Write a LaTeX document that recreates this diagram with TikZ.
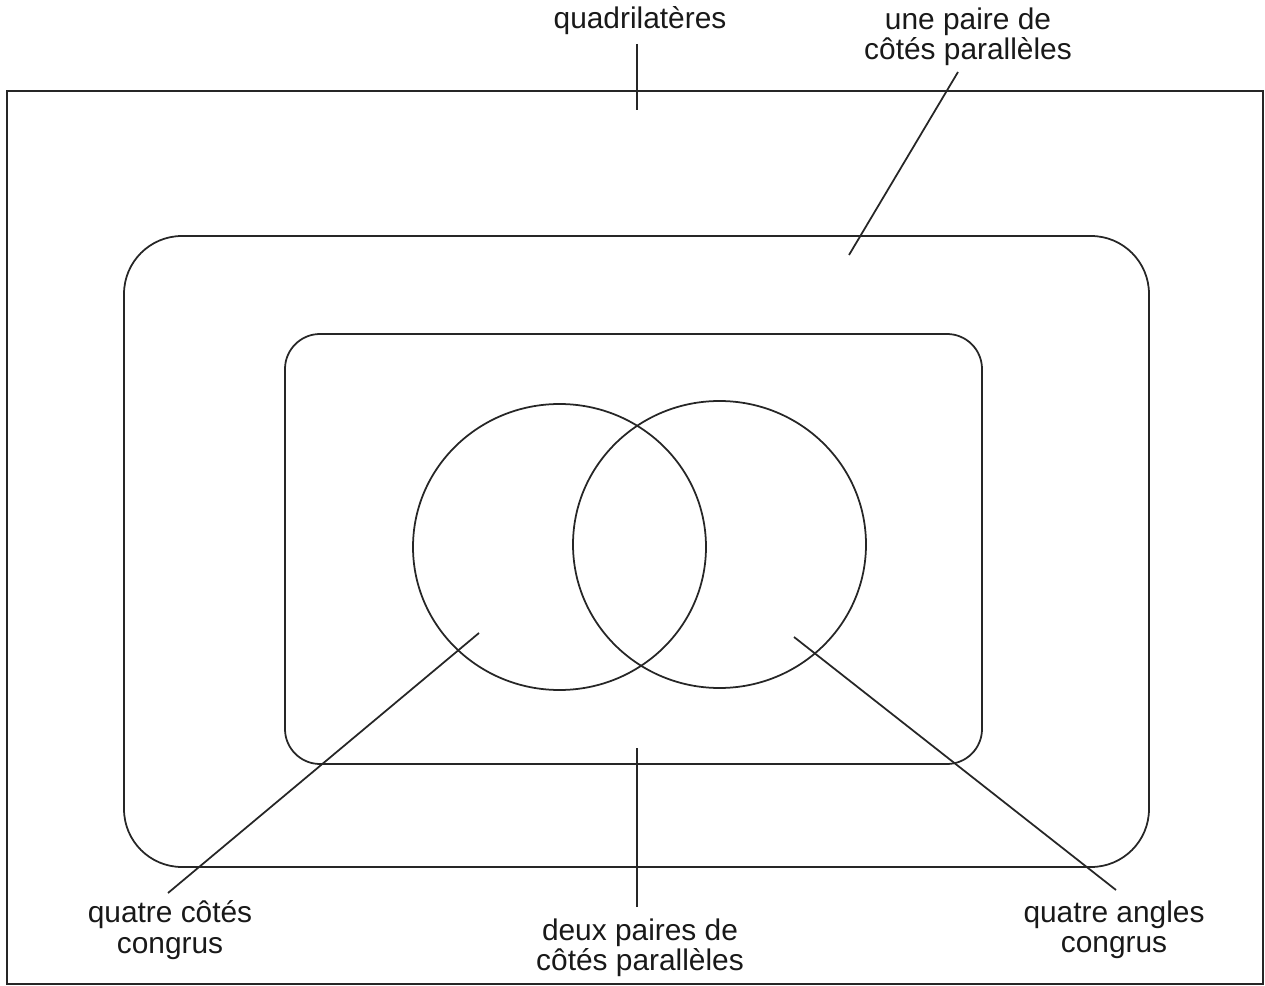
\documentclass[tikz,border=0pt]{standalone}
\usepackage{fontspec}
\setmainfont{Liberation Sans}
\begin{document}
\begin{tikzpicture}[x=0.02cm,y=-0.02cm,
  line width=1pt, color=black!85,
  lbl/.style={align=center, inner sep=0pt, font=\fontsize{17}{17.2}\selectfont, text=black!90},
  leader/.style={line width=1pt}]
\useasboundingbox (0,0) rectangle (1265,986);
% frames
\draw (7,91) rectangle (1263,984);
\draw[rounded corners=1.16cm] (124,236) rectangle (1149,867);
\draw[rounded corners=0.7cm] (285,334) rectangle (982,764);
\draw (559.5,547) ellipse [x radius=146.5, y radius=143];
\draw (719.5,544.5) ellipse [x radius=146.5, y radius=143.5];
% labels
\node[lbl] (quad) at (640,21) {quadrilatères};
\node[lbl] (une) at (968,37) {une paire de\\côtés parallèles};
\node[lbl] (qc) at (170,930) {quatre côtés\\congrus};
\node[lbl] (dp) at (640,948) {deux paires de\\côtés parallèles};
\node[lbl] (qa) at (1114,930) {quatre angles\\congrus};
% leader ends
\coordinate (quadA) at (637,44);  \coordinate (quadB) at (637,110);
\coordinate (uneA) at (958,72);   \coordinate (uneB) at (849,255);
\coordinate (qcA) at (168,893);   \coordinate (qcB) at (479,633);
\coordinate (dpA) at (637,907);   \coordinate (dpB) at (637,748);
\coordinate (qaA) at (1116,890);  \coordinate (qaB) at (794,637);
\draw[leader] (quadA) -- (quadB);
\draw[leader] (uneA) -- (uneB);
\draw[leader] (qcA) -- (qcB);
\draw[leader] (dpA) -- (dpB);
\draw[leader] (qaA) -- (qaB);
\end{tikzpicture}
\end{document}
